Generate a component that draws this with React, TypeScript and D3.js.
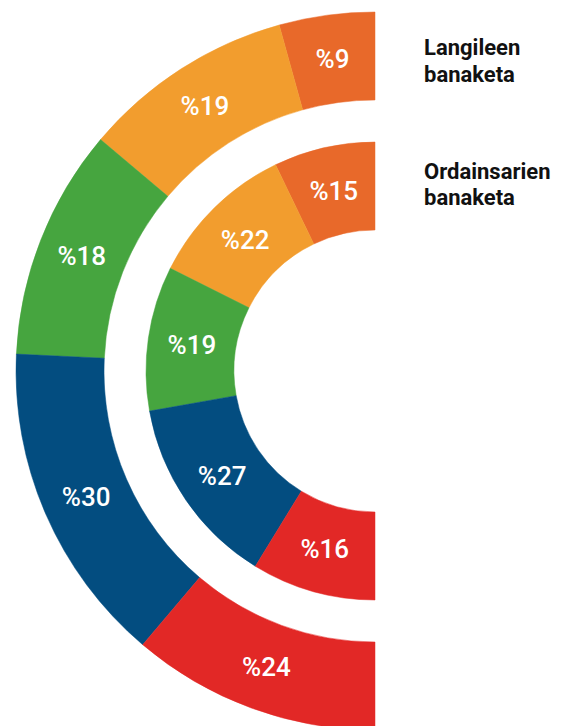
import { useEffect, useRef } from 'react';
import * as d3 from 'd3';

const categories = ['a', 'b', 'c', 'd', 'e'];
const colors = ['#E8692A', '#F29D2E', '#46A53F', '#034D80', '#E22826'];

const outerShare = [8.6, 19.1, 20.8, 29.1, 22.4];
const outerLabels = ['%9', '%19', '%18', '%30', '%24'];

const innerShare = [14.3, 20.9, 20.4, 26.9, 17.5];
const innerLabels = ['%15', '%22', '%19', '%27', '%16'];

const legendLines = [
  ['Langileen', 'banaketa'],
  ['Ordainsarien', 'banaketa'],
];

const WIDTH = 563;
const HEIGHT = 726;

function App() {
  const svgRef = useRef<SVGSVGElement>(null);

  useEffect(() => {
    const svg = d3.select(svgRef.current);
    svg.selectAll('*').remove();

    const cx = 375;
    const cy = 371;

    const g = svg.append('g').attr('transform', `translate(${cx},${cy})`);

    const pie = d3.pie<number>()
      .sort(null)
      .startAngle(0)
      .endAngle(-Math.PI)
      .value(d => d);

    const rings = [
      { share: outerShare, labels: outerLabels, inner: 271, outer: 359 },
      { share: innerShare, labels: innerLabels, inner: 141, outer: 229 },
    ];

    rings.forEach(ring => {
      const arc = d3.arc<d3.PieArcDatum<number>>()
        .innerRadius(ring.inner)
        .outerRadius(ring.outer);

      const slices = pie(ring.share);

      g.append('g')
        .selectAll('path')
        .data(slices)
        .join('path')
        .attr('d', arc)
        .attr('fill', (d, i) => colors[i])
        .attr('stroke', (d, i) => colors[i])
        .attr('stroke-width', 0.5);

      g.append('g')
        .selectAll('text')
        .data(slices)
        .join('text')
        .attr('transform', d => `translate(${arc.centroid(d)})`)
        .attr('text-anchor', 'middle')
        .attr('dy', '0.36em')
        .attr('font-family', 'Roboto, sans-serif')
        .attr('font-size', 26)
        .attr('font-weight', 500)
        .attr('fill', '#fff')
        .text((d, i) => ring.labels[i]);
    });

    // legend
    const legendY = [55, 178.5];
    legendLines.forEach((lines, k) => {
      const t = svg.append('text')
        .attr('x', 424)
        .attr('y', legendY[k])
        .attr('font-family', 'Roboto, sans-serif')
        .attr('font-size', 22)
        .attr('font-weight', 700)
        .attr('fill', '#111');
      lines.forEach((line, j) => {
        t.append('tspan')
          .attr('x', 424)
          .attr('dy', j === 0 ? 0 : 26.5)
          .text(line);
      });
    });
  }, []);

  return (
    <svg
      ref={svgRef}
      width={WIDTH}
      height={HEIGHT}
      style={{ position: 'absolute', left: 0, top: 0, background: '#fff' }}
    />
  );
}

export default App;
